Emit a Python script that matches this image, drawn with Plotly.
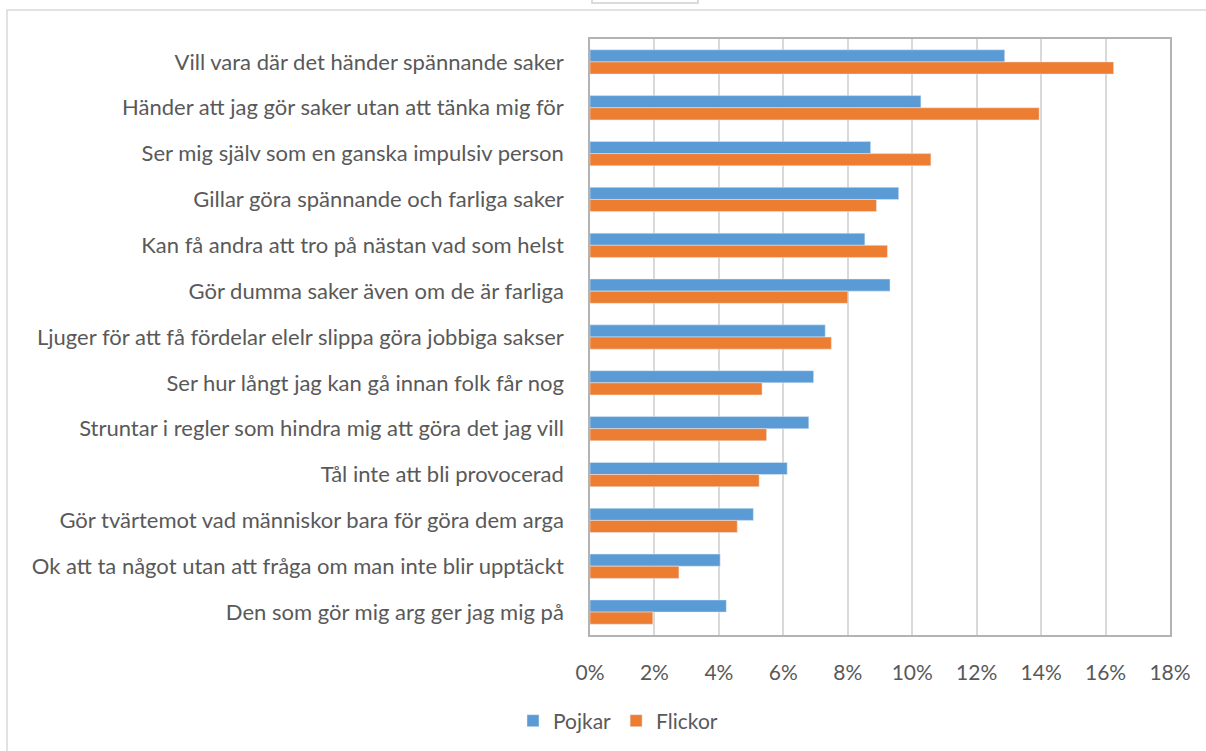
import plotly.graph_objects as go

# survey statements (top to bottom as in the chart)
statements = [
    "Vill vara där det händer spännande saker",
    "Händer att jag gör saker utan att tänka mig för",
    "Ser mig själv som en ganska impulsiv person",
    "Gillar göra spännande och farliga saker",
    "Kan få andra att tro på nästan vad som helst",
    "Gör dumma saker även om de är farliga",
    "Ljuger för att få fördelar elelr slippa göra jobbiga sakser",
    "Ser hur långt jag kan gå innan folk får nog",
    "Struntar i regler som hindra mig att göra det jag vill",
    "Tål inte att bli provocerad",
    "Gör tvärtemot vad människor bara för göra dem arga",
    "Ok att ta något utan att fråga om man inte blir upptäckt",
    "Den som gör mig arg ger jag mig på",
]
pojkar = [12.87, 10.27, 8.71, 9.58, 8.53, 9.31, 7.30, 6.94, 6.79, 6.12, 5.07, 4.04, 4.23]
flickor = [16.25, 13.94, 10.58, 8.89, 9.23, 8.00, 7.49, 5.34, 5.48, 5.25, 4.57, 2.76, 1.95]
x_ticks = [0, 2, 4, 6, 8, 10, 12, 14, 16, 18]

W, H = 1206, 751
L, R, T, B = 590, 1170, 39, 635

fig = go.Figure()
fig.add_trace(go.Bar(y=statements, x=[v / 100 for v in pojkar], name="Pojkar",
                     orientation="h", marker=dict(color="#5B9BD5")))
fig.add_trace(go.Bar(y=statements, x=[v / 100 for v in flickor], name="Flickor",
                     orientation="h", marker=dict(color="#ED7D31")))

font = "Lato, 'Open Sans', sans-serif"
fig.update_layout(
    width=W, height=H,
    margin=dict(l=L, r=W - R, t=T, b=H - B, autoexpand=False),
    barmode="group", bargap=0.47, bargroupgap=0,
    paper_bgcolor="white", plot_bgcolor="white",
    font=dict(family=font, size=22, color="#595959"),
    showlegend=True,
    legend=dict(orientation="h", xref="container", yref="container",
                x=618 / W, y=1 - 721 / H, xanchor="center", yanchor="middle",
                font=dict(size=21, color="#595959"), traceorder="normal",
                itemwidth=30),
    xaxis=dict(range=[0, 0.18], tickvals=[t / 100 for t in x_ticks],
               ticktext=[f"{t}%" for t in x_ticks], tickfont=dict(size=21),
               showgrid=True, gridcolor="#d9d9d9", gridwidth=1.5,
               showline=True, linecolor="#b3b3b3", linewidth=1.5, mirror=True,
               zeroline=False, ticks="", ticklabelstandoff=18, automargin=False,
               fixedrange=True),
    yaxis=dict(autorange="reversed", showgrid=False,
               showline=True, linecolor="#b3b3b3", linewidth=1.5, mirror=True,
               ticks="", ticklabelstandoff=20, automargin=False, fixedrange=True),
)

# outer chart frame and the clipped box at the top edge
def px_x(p):
    return (p - L) / (R - L)

def px_y(p):
    return (B - p) / (B - T)

fig.add_shape(type="rect", xref="paper", yref="paper",
              x0=px_x(7), x1=px_x(1215), y0=px_y(10), y1=px_y(760),
              line=dict(color="#d9d9d9", width=1.5), fillcolor="rgba(0,0,0,0)")
fig.add_shape(type="rect", xref="paper", yref="paper",
              x0=px_x(592), x1=px_x(698), y0=px_y(3), y1=px_y(-5),
              line=dict(color="#d0d0d0", width=1.5), fillcolor="rgba(0,0,0,0)")

fig.write_html("out.html", config={"displayModeBar": False},
               post_script="document.body.style.margin='0';")
